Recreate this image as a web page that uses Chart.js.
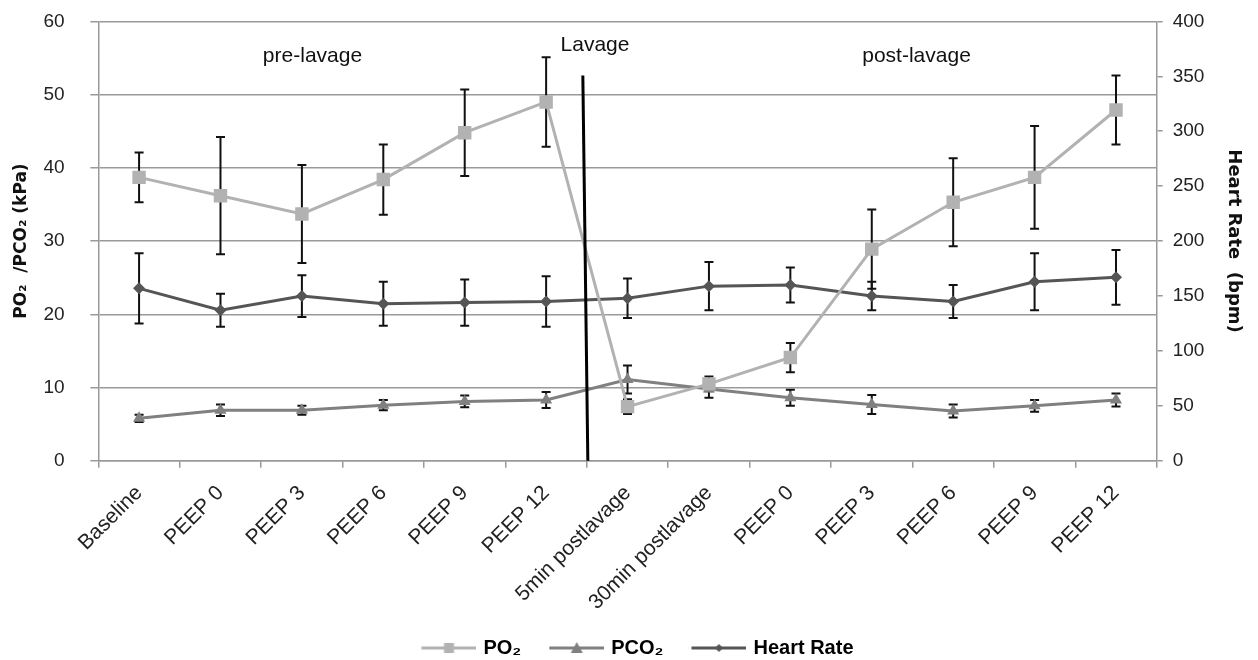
<!DOCTYPE html>
<html>
<head>
<meta charset="utf-8">
<script src="https://cdn.jsdelivr.net/npm/chart.js@4.4.1/dist/chart.umd.min.js"></script>
<style>
  html, body { margin: 0; padding: 0; background: #fff; }
  #wrap { width: 1258px; height: 660px; position: relative; }
</style>
</head>
<body>
<div id="wrap"><canvas id="grafico-lavagem"></canvas></div>
<script>
const categorias = ["Baseline", "PEEP 0", "PEEP 3", "PEEP 6", "PEEP 9", "PEEP 12",
  "5min postlavage", "30min postlavage", "PEEP 0", "PEEP 3", "PEEP 6", "PEEP 9", "PEEP 12"];

const po2 = [38.7, 36.2, 33.7, 38.4, 44.8, 49.0, 7.4, 10.5, 14.1, 28.9, 35.3, 38.7, 47.9];
const po2Erro = [3.4, 8.0, 6.7, 4.8, 5.9, 6.1, 1.0, 1.0, 2.0, 5.4, 6.0, 7.0, 4.7];

const pco2 = [5.8, 6.9, 6.9, 7.6, 8.1, 8.3, 11.1, 9.8, 8.6, 7.7, 6.8, 7.5, 8.3];
const pco2Erro = [0.5, 0.8, 0.6, 0.7, 0.8, 1.1, 1.9, 1.2, 1.1, 1.3, 0.9, 0.8, 0.9];

const freqCardiaca = [157, 137, 150, 143, 144, 145, 148, 159, 160, 150, 145, 163, 167];
const freqErro = [32, 15, 19, 20, 21, 23, 18, 22, 16, 13, 15, 26, 25];

// textos sobre o grafico: [texto, posicao na categoria, valor no eixo esquerdo]
const anotacoes = [
  ["pre-lavage", 2.13, 55.2],
  ["Lavage", 5.6, 56.8],
  ["post-lavage", 9.55, 55.2],
];
// linha vertical da lavagem (entre PEEP 12 e 5min postlavage)
const posLavagem = 5.5;
const topoLavagem = 52.6;

const corPO2 = "#b2b2b2";
const corPCO2 = "#808080";
const corFC = "#555555";
const fonte = "'Liberation Sans', Arial, sans-serif";
const fonteTitulo = "'DejaVu Sans', Verdana, sans-serif";

// icone da legenda: linha com o marcador no meio
function iconeLegenda(cor, estilo) {
  const c = document.createElement("canvas");
  c.width = 76;
  c.height = 14;
  const g = c.getContext("2d");
  const meio = 48.5;
  g.strokeStyle = cor;
  g.fillStyle = cor;
  g.lineWidth = 3;
  g.beginPath();
  g.moveTo(21, 7);
  g.lineTo(76, 7);
  g.stroke();
  g.beginPath();
  if (estilo === "rect") {
    g.rect(meio - 5, 2, 10, 10);
  } else if (estilo === "triangle") {
    g.moveTo(meio, 1);
    g.lineTo(meio + 6, 12);
    g.lineTo(meio - 6, 12);
    g.closePath();
  } else {
    g.moveTo(meio, 3);
    g.lineTo(meio + 4, 7);
    g.lineTo(meio, 11);
    g.lineTo(meio - 4, 7);
    g.closePath();
  }
  g.fill();
  return c;
}

const barrasErro = {
  id: "barrasErro",
  beforeDatasetsDraw(chart) {
    const ctx = chart.ctx;
    chart.data.datasets.forEach((ds, i) => {
      if (!ds.erro) return;
      const meta = chart.getDatasetMeta(i);
      const escala = chart.scales[ds.yAxisID];
      ctx.save();
      ctx.strokeStyle = "#111";
      ctx.lineWidth = 2;
      meta.data.forEach((pt, j) => {
        const cima = escala.getPixelForValue(ds.data[j] + ds.erro[j]);
        const baixo = escala.getPixelForValue(ds.data[j] - ds.erro[j]);
        ctx.beginPath();
        ctx.moveTo(pt.x, cima);
        ctx.lineTo(pt.x, baixo);
        ctx.moveTo(pt.x - 4.5, cima);
        ctx.lineTo(pt.x + 4.5, cima);
        ctx.moveTo(pt.x - 4.5, baixo);
        ctx.lineTo(pt.x + 4.5, baixo);
        ctx.stroke();
      });
      ctx.restore();
    });
  },
};

const marcacoes = {
  id: "marcacoes",
  afterDatasetsDraw(chart) {
    const ctx = chart.ctx;
    const x = chart.scales.x;
    const y = chart.scales.y;
    ctx.save();
    ctx.strokeStyle = "#000";
    ctx.lineWidth = 3;
    ctx.beginPath();
    ctx.moveTo(x.getPixelForValue(posLavagem) - 4, y.getPixelForValue(topoLavagem));
    ctx.lineTo(x.getPixelForValue(posLavagem) + 1, y.getPixelForValue(0));
    ctx.stroke();
    ctx.fillStyle = "#111";
    ctx.font = "21px " + fonte;
    ctx.textAlign = "center";
    ctx.textBaseline = "middle";
    anotacoes.forEach(([texto, pos, valor]) => {
      ctx.fillText(texto, x.getPixelForValue(pos), y.getPixelForValue(valor));
    });
    ctx.restore();
  },
};

new Chart(document.getElementById("grafico-lavagem"), {
  type: "line",
  plugins: [barrasErro, marcacoes],
  data: {
    labels: categorias,
    datasets: [
      {
        label: "PO\u2082",
        data: po2,
        erro: po2Erro,
        yAxisID: "y",
        borderColor: corPO2,
        backgroundColor: corPO2,
        borderWidth: 3,
        pointStyle: "rect",
        pointRadius: 9.5,
        pointBorderWidth: 0,
        icone: iconeLegenda(corPO2, "rect"),
      },
      {
        label: "PCO\u2082",
        data: pco2,
        erro: pco2Erro,
        yAxisID: "y",
        borderColor: corPCO2,
        backgroundColor: corPCO2,
        borderWidth: 3,
        pointStyle: "triangle",
        pointRadius: 7,
        pointBorderWidth: 0,
        icone: iconeLegenda(corPCO2, "triangle"),
      },
      {
        label: "Heart Rate",
        data: freqCardiaca,
        erro: freqErro,
        yAxisID: "y1",
        borderColor: corFC,
        backgroundColor: corFC,
        borderWidth: 3,
        pointStyle: "rectRot",
        pointRadius: 6,
        pointBorderWidth: 0,
        icone: iconeLegenda(corFC, "diamond"),
      },
    ],
  },
  options: {
    responsive: true,
    maintainAspectRatio: false,
    animation: false,
    layout: { padding: { top: 0, right: 10, left: 9, bottom: -8 } },
    plugins: {
      tooltip: { enabled: false },
      legend: {
        position: "bottom",
        labels: {
          usePointStyle: true,
          pointStyleWidth: 70,
          padding: 10,
          color: "#111",
          font: { family: fonte, size: 20, weight: "bold" },
          generateLabels(chart) {
            return chart.data.datasets.map((ds, i) => ({
              text: ds.label,
              pointStyle: ds.icone,
              fillStyle: ds.borderColor,
              strokeStyle: ds.borderColor,
              lineWidth: 0,
              datasetIndex: i,
              hidden: false,
            }));
          },
        },
      },
    },
    scales: {
      x: {
        offset: true,
        grid: { offset: true, drawOnChartArea: false, tickLength: 7, color: "#999", lineWidth: 1.5 },
        border: { color: "#999", width: 1.5 },
        ticks: {
          autoSkip: false,
          minRotation: 45,
          maxRotation: 45,
          padding: 13,
          color: "#222",
          font: { family: fonte, size: 21 },
        },
      },
      y: {
        position: "left",
        min: 0,
        max: 60,
        ticks: {
          stepSize: 10,
          padding: 10,
          color: "#222",
          font: { family: fonte, size: 19 },
          callback: (v) => v + "   ",
        },
        grid: { color: "#9a9a9a", lineWidth: 1.5, tickLength: 8 },
        border: { color: "#999", width: 1.5 },
        title: {
          display: true,
          text: "PO\u2082  /PCO\u2082 (kPa)",
          color: "#111",
          padding: { top: 2, bottom: 2 },
          font: { family: fonteTitulo, size: 17, weight: "bold" },
        },
      },
      y1: {
        position: "right",
        min: 0,
        max: 400,
        ticks: { stepSize: 50, padding: 10, color: "#222", font: { family: fonte, size: 19 } },
        grid: { drawOnChartArea: false, tickLength: 6, color: "#999", lineWidth: 1.5 },
        border: { color: "#999", width: 1.5 },
        title: {
          display: true,
          text: "Heart Rate  (bpm)",
          color: "#111",
          padding: { top: 4, bottom: 8 },
          font: { family: fonteTitulo, size: 18, weight: "bold" },
        },
      },
    },
  },
});
</script>
</body>
</html>
